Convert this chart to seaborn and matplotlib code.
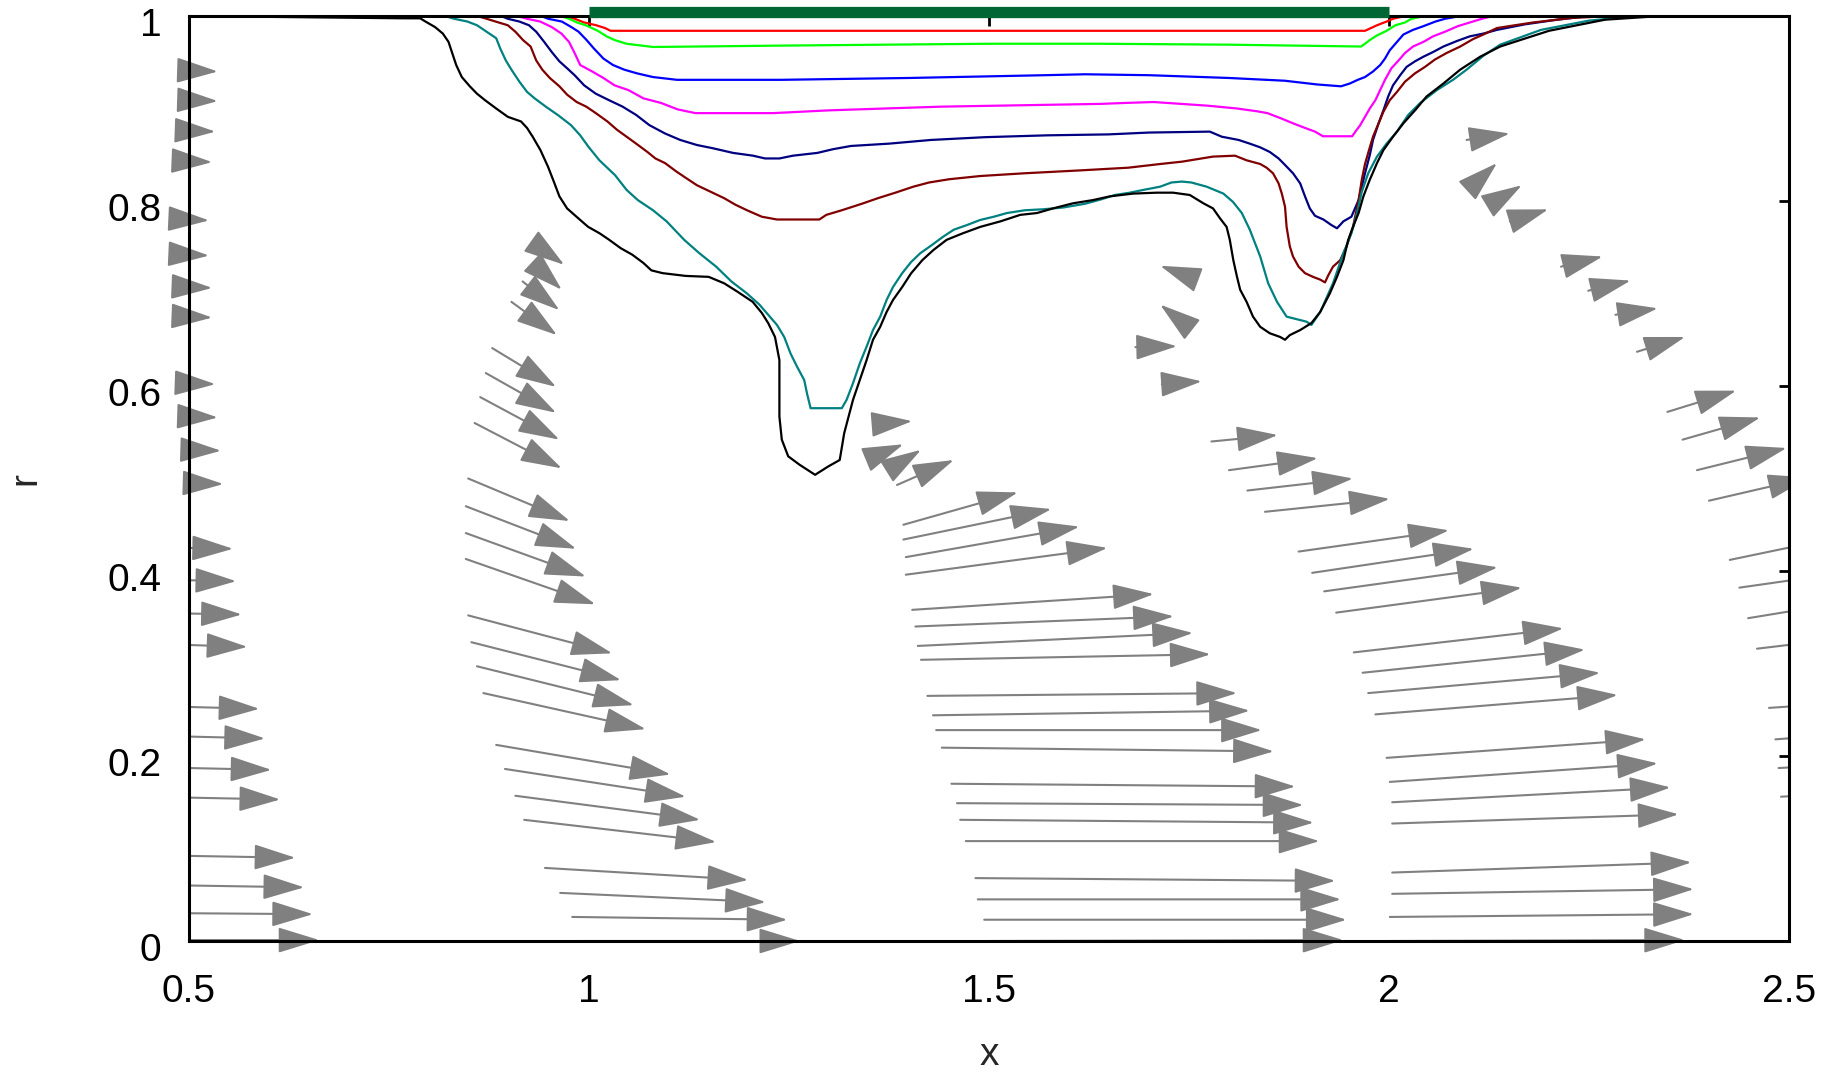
import numpy as np
import pandas as pd
import matplotlib
matplotlib.use("Agg")
import matplotlib.pyplot as plt
from matplotlib.patches import FancyArrowPatch
from matplotlib.transforms import ScaledTranslation
import seaborn as sns

# ---------------- interface curves r(x) ----------------
red_x = [0.5, 0.97, 0.982, 0.994, 1.009, 1.020, 1.027, 1.50, 1.97, 1.985, 1.997, 2.005, 2.02, 2.5]
red_r = [1.0, 1.0, 0.997, 0.993, 0.990, 0.987, 0.984, 0.984, 0.984, 0.990, 0.994, 0.997, 1.0, 1.0]

green_x = [0.5, 0.965, 0.975, 0.985, 0.996, 1.011, 1.022, 1.032, 1.047, 1.08, 1.24, 1.50, 1.64, 1.80,
           1.965, 1.97, 1.976, 1.985, 1.997, 2.008, 2.02, 2.028, 2.045, 2.5]
green_r = [1.0, 1.0, 0.997, 0.993, 0.990, 0.984, 0.978, 0.974, 0.970, 0.9665, 0.968, 0.970, 0.970, 0.969,
           0.967, 0.970, 0.974, 0.979, 0.984, 0.990, 0.993, 0.997, 1.0, 1.0]

blue_x = [0.5, 0.94, 0.949, 0.966, 0.978, 0.987, 0.997, 1.006, 1.018, 1.030, 1.044, 1.06, 1.08, 1.11,
          1.24, 1.40, 1.57, 1.62, 1.70, 1.80, 1.87, 1.91, 1.94, 1.951, 1.961, 1.970, 1.980, 1.989,
          1.995, 2.001, 2.010, 2.018, 2.030, 2.043, 2.058, 2.070, 2.083, 2.10, 2.5]
blue_r = [1.0, 1.0, 0.997, 0.994, 0.988, 0.983, 0.974, 0.965, 0.954, 0.947, 0.942, 0.938, 0.934, 0.931,
          0.931, 0.933, 0.936, 0.937, 0.936, 0.933, 0.930, 0.926, 0.924, 0.927, 0.931, 0.934, 0.940, 0.947,
          0.954, 0.963, 0.972, 0.980, 0.985, 0.989, 0.994, 0.997, 0.999, 1.0, 1.0]

magenta_x = [0.5, 0.91, 0.9225, 0.939, 0.9535, 0.9655, 0.975, 0.982, 0.989, 1.004, 1.018, 1.032, 1.049,
             1.068, 1.090, 1.111, 1.133, 1.23, 1.30, 1.44, 1.64, 1.67, 1.706, 1.774, 1.81, 1.835, 1.848,
             1.866, 1.88, 1.895, 1.9075, 1.9175, 1.954, 1.958, 1.964, 1.970, 1.976, 1.983, 1.989, 1.995,
             2.003, 2.012, 2.020, 2.030, 2.043, 2.055, 2.070, 2.086, 2.101, 2.116, 2.13, 2.5]
magenta_r = [1.0, 1.0, 0.997, 0.994, 0.988, 0.981, 0.972, 0.960, 0.947, 0.940, 0.933, 0.925, 0.920,
             0.911, 0.906, 0.899, 0.895, 0.895, 0.898, 0.902, 0.905, 0.906, 0.907, 0.903, 0.900, 0.897, 0.895,
             0.889, 0.884, 0.879, 0.875, 0.870, 0.870, 0.875, 0.882, 0.891, 0.900, 0.909, 0.920, 0.931,
             0.9435, 0.952, 0.960, 0.967, 0.972, 0.978, 0.983, 0.989, 0.993, 0.997, 1.0, 1.0]

navy_x = [0.5, 0.89, 0.8985, 0.913, 0.925, 0.934, 0.944, 0.9535, 0.963, 0.9726, 0.982, 0.994, 1.0085,
          1.025, 1.042, 1.059, 1.0755, 1.095, 1.114, 1.135, 1.155, 1.18, 1.205, 1.22, 1.238, 1.255,
          1.2855, 1.305, 1.3275, 1.375, 1.4275, 1.495, 1.573, 1.649, 1.70, 1.776, 1.791, 1.812, 1.826,
          1.839, 1.851, 1.862, 1.87, 1.88, 1.889, 1.895, 1.901, 1.9075, 1.918, 1.928, 1.935, 1.943,
          1.953, 1.962, 1.966, 1.97, 1.976, 1.980, 1.987, 1.993, 1.999, 2.005, 2.014, 2.022, 2.0325,
          2.043, 2.055, 2.068, 2.085, 2.101, 2.118, 2.135, 2.17, 2.21, 2.25, 2.5]
navy_r = [1.0, 1.0, 0.997, 0.994, 0.990, 0.983, 0.972, 0.961, 0.951, 0.9435, 0.936, 0.925, 0.916,
          0.909, 0.902, 0.893, 0.882, 0.873, 0.866, 0.8605, 0.857, 0.852, 0.849, 0.846, 0.846, 0.849,
          0.852, 0.856, 0.8595, 0.862, 0.866, 0.869, 0.871, 0.872, 0.874, 0.875, 0.8695, 0.866, 0.862,
          0.858, 0.853, 0.846, 0.839, 0.830, 0.819, 0.805, 0.792, 0.784, 0.780, 0.774, 0.7705, 0.778,
          0.783, 0.801, 0.8155, 0.830, 0.8497, 0.866, 0.884, 0.898, 0.913, 0.925, 0.936, 0.945, 0.951,
          0.956, 0.961, 0.967, 0.973, 0.978, 0.981, 0.985, 0.991, 0.996, 1.0, 1.0]

maroon_x = [0.5, 0.86, 0.872, 0.887, 0.8985, 0.908, 0.9175, 0.927, 0.934, 0.9416, 0.951, 0.963, 0.9726,
            0.9846, 0.9966, 1.0085, 1.023, 1.035, 1.047, 1.059, 1.073, 1.083, 1.095, 1.109, 1.121, 1.135,
            1.152, 1.169, 1.183, 1.1975, 1.216, 1.235, 1.288, 1.2966, 1.316, 1.341, 1.361, 1.383, 1.4055,
            1.425, 1.45, 1.489, 1.545, 1.612, 1.674, 1.714, 1.741, 1.78, 1.8075, 1.822, 1.839, 1.847,
            1.855, 1.862, 1.866, 1.87, 1.872, 1.876, 1.880, 1.887, 1.895, 1.905, 1.914, 1.92, 1.924,
            1.93, 1.939, 1.947, 1.955, 1.962, 1.966, 1.97, 1.975, 1.980, 1.987, 1.993, 2.001, 2.01,
            2.02, 2.0325, 2.045, 2.0575, 2.072, 2.089, 2.105, 2.118, 2.135, 2.18, 2.23, 2.28, 2.5]
maroon_r = [1.0, 1.0, 0.997, 0.993, 0.990, 0.983, 0.974, 0.967, 0.952, 0.942, 0.933, 0.924, 0.915,
            0.907, 0.902, 0.895, 0.886, 0.877, 0.8695, 0.862, 0.853, 0.846, 0.841, 0.832, 0.825, 0.817,
            0.810, 0.803, 0.796, 0.790, 0.783, 0.780, 0.780, 0.785, 0.790, 0.797, 0.803, 0.809, 0.8155,
            0.820, 0.8235, 0.827, 0.830, 0.833, 0.836, 0.840, 0.8425, 0.848, 0.849, 0.844, 0.840, 0.836,
            0.830, 0.819, 0.808, 0.794, 0.772, 0.751, 0.740, 0.729, 0.722, 0.718, 0.715, 0.712, 0.7195,
            0.729, 0.736, 0.751, 0.772, 0.801, 0.823, 0.840, 0.855, 0.8695, 0.884, 0.8965, 0.909, 0.918,
            0.929, 0.938, 0.945, 0.953, 0.960, 0.967, 0.975, 0.980, 0.987, 0.993, 0.998, 1.0, 1.0]

teal_x = [0.5, 0.82, 0.8315, 0.848, 0.86, 0.872, 0.884, 0.889, 0.896, 0.903, 0.913, 0.9225, 0.932, 0.946,
          0.961, 0.9775, 0.989, 0.999, 1.013, 1.0325, 1.047, 1.061, 1.080, 1.097, 1.119, 1.138, 1.159,
          1.178, 1.1975, 1.213, 1.224, 1.235, 1.244, 1.252, 1.260, 1.269, 1.2725, 1.277, 1.316, 1.322,
          1.33, 1.3385, 1.347, 1.355, 1.364, 1.372, 1.380, 1.3915, 1.4026, 1.414, 1.428, 1.442, 1.456,
          1.4725, 1.489, 1.506, 1.5225, 1.545, 1.567, 1.593, 1.62, 1.641, 1.6575, 1.676, 1.693, 1.714,
          1.728, 1.741, 1.753, 1.772, 1.793, 1.805, 1.816, 1.826, 1.839, 1.849, 1.86, 1.872, 1.897,
          1.903, 1.914, 1.93, 1.943, 1.953, 1.96, 1.966, 1.974, 1.985, 1.997, 2.01, 2.024, 2.039, 2.06,
          2.08, 2.097, 2.118, 2.139, 2.19, 2.25, 2.31, 2.5]
teal_r = [1.0, 1.0, 0.997, 0.994, 0.990, 0.983, 0.976, 0.965, 0.952, 0.942, 0.929, 0.918, 0.911, 0.902,
          0.893, 0.882, 0.871, 0.859, 0.844, 0.828, 0.812, 0.801, 0.790, 0.778, 0.758, 0.7435, 0.729,
          0.713, 0.700, 0.688, 0.677, 0.666, 0.653, 0.635, 0.621, 0.6065, 0.592, 0.576, 0.576, 0.585,
          0.603, 0.6245, 0.6425, 0.6605, 0.675, 0.693, 0.707, 0.722, 0.734, 0.7435, 0.752, 0.761, 0.769,
          0.774, 0.7795, 0.783, 0.787, 0.790, 0.791, 0.793, 0.797, 0.802, 0.8065, 0.809, 0.812, 0.8155,
          0.820, 0.821, 0.820, 0.8155, 0.808, 0.799, 0.787, 0.769, 0.740, 0.711, 0.691, 0.675, 0.6695,
          0.666, 0.680, 0.711, 0.7435, 0.765, 0.787, 0.81, 0.83, 0.848, 0.862, 0.875, 0.893, 0.906, 0.920,
          0.931, 0.942, 0.957, 0.969, 0.985, 0.995, 1.0, 1.0]

black_x = [0.5, 0.7694, 0.789, 0.7956, 0.8076, 0.8173, 0.8244, 0.829, 0.834, 0.841, 0.851, 0.860, 0.870,
           0.884, 0.8985, 0.915, 0.9225, 0.9296, 0.9393, 0.9488, 0.956, 0.963, 0.9726, 0.987, 0.999,
           1.0134, 1.0253, 1.0396, 1.054, 1.068, 1.078, 1.092, 1.121, 1.1496, 1.169, 1.1855, 1.2046,
           1.216, 1.224, 1.2325, 1.238, 1.238, 1.241, 1.249, 1.263, 1.2826, 1.299, 1.3134, 1.319, 1.3245,
           1.33, 1.3385, 1.347, 1.355, 1.364, 1.372, 1.380, 1.3915, 1.4026, 1.4166, 1.4305, 1.447, 1.467,
           1.489, 1.5143, 1.539, 1.56, 1.580, 1.605, 1.630, 1.651, 1.680, 1.7096, 1.730, 1.751, 1.768,
           1.780, 1.789, 1.797, 1.801, 1.8054, 1.810, 1.814, 1.822, 1.830, 1.839, 1.851, 1.864, 1.870,
           1.876, 1.889, 1.903, 1.914, 1.926, 1.935, 1.943, 1.949, 1.955, 1.962, 1.968, 1.976, 1.985,
           1.993, 2.005, 2.018, 2.0325, 2.047, 2.068, 2.089, 2.114, 2.139, 2.20, 2.27, 2.34, 2.5]
black_r = [1.0, 0.9975, 0.9975, 0.994, 0.988, 0.981, 0.972, 0.960, 0.947, 0.934, 0.924, 0.916, 0.909,
           0.900, 0.891, 0.886, 0.879, 0.8695, 0.855, 0.837, 0.821, 0.805, 0.792, 0.781, 0.772,
           0.765, 0.758, 0.749, 0.742, 0.733, 0.725, 0.722, 0.719, 0.718, 0.711, 0.702, 0.691,
           0.679, 0.668, 0.653, 0.628, 0.567, 0.542, 0.524, 0.515, 0.504, 0.513, 0.520, 0.549, 0.567,
           0.585, 0.6065, 0.628, 0.650, 0.664, 0.680, 0.693, 0.707, 0.7218, 0.736, 0.747, 0.758, 0.765,
           0.772, 0.778, 0.785, 0.787, 0.792, 0.7975, 0.801, 0.805, 0.808, 0.809, 0.809, 0.8065, 0.7975,
           0.792, 0.781, 0.772, 0.758, 0.736, 0.718, 0.704, 0.691, 0.675, 0.664, 0.657, 0.653, 0.650,
           0.655, 0.6605, 0.668, 0.680, 0.700, 0.718, 0.736, 0.758, 0.772, 0.787, 0.805, 0.823, 0.841,
           0.855, 0.8695, 0.884, 0.898, 0.913, 0.927, 0.942, 0.956, 0.967, 0.984, 0.996, 1.0, 1.0]

curve_names = ["red", "green", "blue", "magenta", "navy", "maroon", "teal", "black"]
curve_colors = ["#ff0000", "#00ff00", "#0000ff", "#ff00ff", "#000080", "#800000", "#008080", "#000000"]

# heated segment marker on the wall
bar_x = [1.0, 2.0]
bar_r = [1.0046, 1.0046]

# ---------------- velocity vectors (tail -> tip) ----------------
c1_x0 = [0.5, 0.5, 0.5, 0.5, 0.5, 0.5, 0.5, 0.5, 0.5, 0.5, 0.5, 0.5,
         0.5, 0.5, 0.5, 0.5, 0.5, 0.5, 0.5, 0.5, 0.5, 0.5, 0.5, 0.5]
c1_r0 = [0.941, 0.909, 0.876, 0.843, 0.780, 0.742, 0.707, 0.675, 0.603, 0.567, 0.531, 0.495,
         0.425, 0.390, 0.354, 0.320, 0.253, 0.221, 0.187, 0.155, 0.092, 0.060, 0.030, 0.001]
c1_x1 = [0.536, 0.536, 0.533, 0.529, 0.525, 0.525, 0.529, 0.529, 0.533, 0.536, 0.540, 0.543,
         0.555, 0.559, 0.566, 0.573, 0.588, 0.595, 0.603, 0.614, 0.633, 0.644, 0.655, 0.663]
c1_r1 = [0.940, 0.908, 0.875, 0.842, 0.779, 0.741, 0.706, 0.674, 0.602, 0.566, 0.530, 0.494,
         0.424, 0.389, 0.353, 0.318, 0.251, 0.219, 0.185, 0.153, 0.090, 0.058, 0.029, 0.001]

c2_x0 = [0.935, 0.930, 0.917, 0.903, 0.879, 0.871, 0.864, 0.857, 0.849, 0.846, 0.846, 0.846,
         0.849, 0.853, 0.860, 0.868, 0.884, 0.895, 0.908, 0.919, 0.945, 0.964, 0.979, 0.993]
c2_r0 = [0.752, 0.733, 0.713, 0.691, 0.641, 0.614, 0.588, 0.560, 0.500, 0.470, 0.441, 0.413,
         0.352, 0.323, 0.297, 0.268, 0.212, 0.186, 0.157, 0.131, 0.079, 0.052, 0.026, 0.0]
c2_x1 = [0.969, 0.966, 0.963, 0.960, 0.959, 0.959, 0.963, 0.966, 0.976, 0.984, 0.996, 1.008,
         1.029, 1.040, 1.056, 1.071, 1.102, 1.121, 1.139, 1.159, 1.199, 1.221, 1.248, 1.264]
c2_r1 = [0.731, 0.704, 0.682, 0.655, 0.599, 0.571, 0.542, 0.511, 0.454, 0.424, 0.394, 0.364,
         0.311, 0.282, 0.255, 0.229, 0.180, 0.156, 0.131, 0.107, 0.066, 0.042, 0.023, 0.0]

c3_x0 = [1.361, 1.351, 1.374, 1.385, 1.393, 1.393, 1.396, 1.396, 1.404, 1.408, 1.411, 1.415,
         1.423, 1.430, 1.434, 1.441, 1.453, 1.460, 1.464, 1.471, 1.483, 1.486, 1.494, 1.501]
c3_r0 = [0.559, 0.522, 0.509, 0.493, 0.450, 0.434, 0.415, 0.396, 0.358, 0.340, 0.319, 0.304,
         0.265, 0.244, 0.228, 0.209, 0.170, 0.149, 0.131, 0.108, 0.068, 0.045, 0.023, 0.0]
c3_x1 = [1.404, 1.393, 1.415, 1.456, 1.536, 1.578, 1.613, 1.648, 1.706, 1.731, 1.755, 1.777,
         1.810, 1.826, 1.841, 1.856, 1.883, 1.893, 1.906, 1.913, 1.933, 1.940, 1.947, 1.943]
c3_r1 = [0.562, 0.537, 0.531, 0.520, 0.485, 0.467, 0.448, 0.425, 0.375, 0.351, 0.333, 0.310,
         0.268, 0.249, 0.228, 0.205, 0.167, 0.147, 0.128, 0.108, 0.065, 0.045, 0.023, 0.001]

c4_x0 = [1.751, 1.745, 1.683, 1.716, 1.778, 1.800, 1.823, 1.845, 1.887, 1.904, 1.919, 1.934,
         1.956, 1.967, 1.974, 1.983, 1.997, 2.001, 2.004, 2.004, 2.004, 2.004, 2.001, 2.001]
c4_r0 = [0.718, 0.667, 0.642, 0.602, 0.540, 0.509, 0.487, 0.464, 0.421, 0.398, 0.378, 0.355,
         0.312, 0.290, 0.268, 0.245, 0.198, 0.172, 0.150, 0.127, 0.074, 0.051, 0.026, 0.0]
c4_x1 = [1.714, 1.714, 1.735, 1.766, 1.861, 1.911, 1.955, 2.001, 2.075, 2.106, 2.136, 2.166,
         2.218, 2.245, 2.264, 2.286, 2.321, 2.336, 2.352, 2.362, 2.378, 2.381, 2.381, 2.370]
c4_r1 = [0.730, 0.688, 0.643, 0.605, 0.547, 0.522, 0.500, 0.478, 0.444, 0.424, 0.404, 0.382,
         0.338, 0.315, 0.290, 0.266, 0.218, 0.192, 0.166, 0.137, 0.085, 0.056, 0.029, 0.001]

c5_x0 = [2.097, 2.101, 2.126, 2.151, 2.215, 2.249, 2.283, 2.310, 2.348, 2.367, 2.385, 2.400,
         2.426, 2.438, 2.449, 2.460, 2.475, 2.483, 2.487, 2.490]
c5_r0 = [0.866, 0.814, 0.796, 0.778, 0.729, 0.703, 0.677, 0.637, 0.572, 0.542, 0.509, 0.476,
         0.412, 0.382, 0.349, 0.316, 0.252, 0.218, 0.187, 0.156]
c5_x1 = [2.151, 2.135, 2.166, 2.199, 2.267, 2.302, 2.336, 2.370, 2.434, 2.464, 2.497, 2.525,
         2.576, 2.576, 2.576, 2.576, 2.576, 2.576, 2.576, 2.576]
c5_r1 = [0.873, 0.841, 0.817, 0.791, 0.740, 0.714, 0.684, 0.653, 0.595, 0.566, 0.533, 0.501,
         0.439, 0.399, 0.367, 0.328, 0.258, 0.224, 0.191, 0.160]

x_ticks = [0.5, 1.0, 1.5, 2.0, 2.5]
x_tick_labels = ["0.5", "1", "1.5", "2", "2.5"]
r_ticks = [0.0, 0.2, 0.4, 0.6, 0.8, 1.0]
r_tick_labels = ["0", "0.2", "0.4", "0.6", "0.8", "1"]

# ---------------- figure ----------------
sns.set_style("white")
plt.rcParams["font.family"] = ["Liberation Sans Narrow", "Liberation Sans", "DejaVu Sans"]

fig = plt.figure(figsize=(18.33, 10.76), dpi=100)
ax = fig.add_axes([189 / 1833, 1 - 941 / 1076, 1600 / 1833, 925 / 1076])

arrow_style = "-|>,head_length=2.6,head_width=0.8"
arrow_color = "#808080"
for xs0, rs0, xs1, rs1 in [(c1_x0, c1_r0, c1_x1, c1_r1), (c2_x0, c2_r0, c2_x1, c2_r1),
                           (c3_x0, c3_r0, c3_x1, c3_r1), (c4_x0, c4_r0, c4_x1, c4_r1),
                           (c5_x0, c5_r0, c5_x1, c5_r1)]:
    for a, b, c, d in zip(xs0, rs0, xs1, rs1):
        arr = FancyArrowPatch((a, b), (c, d), arrowstyle=arrow_style, mutation_scale=10,
                              color=arrow_color, lw=1.5, shrinkA=0, shrinkB=0,
                              clip_on=(c > 2.49), zorder=1.5)
        ax.add_patch(arr)

frames = []
for name, xs, rs in zip(curve_names,
                        [red_x, green_x, blue_x, magenta_x, navy_x, maroon_x, teal_x, black_x],
                        [red_r, green_r, blue_r, magenta_r, navy_r, maroon_r, teal_r, black_r]):
    frames.append(pd.DataFrame({"x": xs, "r": rs, "curve": name}))
df = pd.concat(frames, ignore_index=True)

sns.lineplot(data=df, x="x", y="r", hue="curve", hue_order=curve_names,
             palette=dict(zip(curve_names, curve_colors)), sort=False, estimator=None,
             legend=False, linewidth=1.6, ax=ax, zorder=2)

ax.plot(bar_x, bar_r, color="#006633", lw=8.1, solid_capstyle="butt", clip_on=False, zorder=5)

ax.set_xlim(0.5, 2.5)
ax.set_ylim(0.0, 1.0)
ax.set_xticks(x_ticks)
ax.set_xticklabels(x_tick_labels)
ax.set_yticks(r_ticks)
ax.set_yticklabels(r_tick_labels)
ax.tick_params(direction="in", length=7, width=2, top=True, right=True,
               labelsize=28, colors="black")
ax.tick_params(axis="x", pad=24)
ax.tick_params(axis="y", pad=20)
shift = ScaledTranslation(0, -4 / 72, fig.dpi_scale_trans)
for lab in ax.get_yticklabels():
    lab.set_transform(lab.get_transform() + shift)
for s in ax.spines.values():
    s.set_linewidth(2.2)
    s.set_color("black")
    s.set_zorder(4)

ax.set_xlabel("x", fontsize=28, labelpad=19)
ax.set_ylabel("r", fontsize=28, labelpad=46)

fig.savefig("out.png", dpi=100)
